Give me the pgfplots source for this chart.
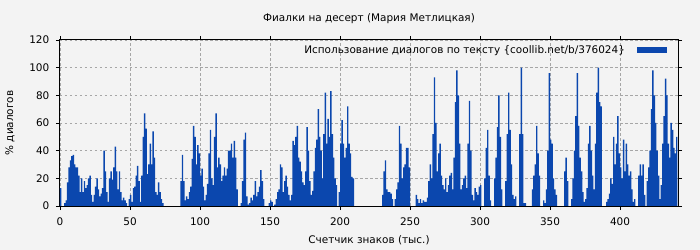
\documentclass[border=0pt]{standalone}
\usepackage{fontspec}
\setmainfont{DejaVu Sans}
\usepackage{pgfplots}
\usepackage{pgfplotstable}
\pgfplotsset{compat=1.18}
\definecolor{barblue}{RGB}{11,71,174}
\definecolor{bg}{RGB}{243,243,243}
\pgfplotstableread[row sep=\\]{
x y\\
0 13\\ 1 0\\ 2 0\\ 3 2\\ 4 4\\ 5 17\\ 6 28\\ 7 33\\ 8 36\\ 9 37\\
10 30\\ 11 28\\ 12 28\\ 13 22\\ 14 10\\ 15 20\\ 16 10\\ 17 18\\ 18 13\\ 19 15\\
20 20\\ 21 22\\ 22 8\\ 23 3\\ 24 8\\ 25 14\\ 26 20\\ 27 12\\ 28 7\\ 29 9\\
30 13\\ 31 40\\ 32 25\\ 33 10\\ 34 3\\ 35 20\\ 36 25\\ 37 19\\ 38 28\\ 39 43\\
40 25\\ 41 12\\ 42 25\\ 43 10\\ 44 4\\ 45 6\\ 46 4\\ 47 2\\ 48 0\\ 49 5\\
50 8\\ 51 3\\ 52 13\\ 53 14\\ 54 22\\ 55 29\\ 56 18\\ 57 3\\ 58 22\\ 59 50\\
60 67\\ 61 56\\ 62 23\\ 63 30\\ 64 45\\ 65 30\\ 66 54\\ 67 35\\ 68 10\\ 69 8\\
70 17\\ 71 10\\ 72 5\\ 73 2\\
86 18\\ 87 37\\ 88 18\\ 89 4\\
90 7\\ 91 5\\ 92 10\\ 93 14\\ 94 34\\ 95 58\\ 96 50\\ 97 30\\ 98 44\\ 99 38\\
100 22\\ 101 27\\ 102 14\\ 103 4\\ 104 8\\ 105 16\\ 106 38\\ 107 55\\ 108 20\\ 109 15\\
110 50\\ 111 67\\ 112 28\\ 113 35\\ 114 30\\ 115 18\\ 116 22\\ 117 28\\ 118 22\\ 119 27\\
120 40\\ 121 40\\ 122 45\\ 123 35\\ 124 47\\ 125 35\\ 126 12\\ 127 0\\ 128 0\\ 129 2\\
130 18\\ 131 48\\ 132 53\\ 133 7\\ 134 1\\ 135 2\\ 136 6\\ 137 4\\ 138 8\\ 139 18\\
140 7\\ 141 10\\ 142 14\\ 143 26\\ 144 18\\ 145 5\\
149 2\\ 150 4\\ 151 3\\ 152 0\\ 153 1\\ 154 5\\ 155 10\\ 156 12\\ 157 30\\ 158 28\\ 159 10\\
160 18\\ 161 22\\ 162 14\\ 163 8\\ 164 4\\ 165 8\\ 166 47\\ 167 44\\ 168 50\\ 169 58\\
170 35\\ 171 32\\ 172 25\\ 173 17\\ 174 15\\ 175 25\\ 176 57\\ 177 40\\ 178 18\\ 179 8\\
180 11\\ 181 25\\ 182 42\\ 183 48\\ 184 70\\ 185 50\\ 186 40\\ 187 20\\ 188 52\\ 189 82\\
190 45\\ 191 63\\ 192 50\\ 193 83\\ 194 52\\ 195 35\\ 196 20\\ 197 15\\ 198 0\\ 199 10\\
200 45\\ 201 62\\ 202 45\\ 203 35\\ 204 42\\ 205 72\\ 206 45\\ 207 38\\ 208 21\\ 209 20\\
230 8\\ 231 25\\ 232 33\\ 233 12\\ 234 10\\ 235 10\\ 236 9\\ 237 5\\ 238 0\\ 239 5\\
240 12\\ 241 17\\ 242 58\\ 243 45\\ 244 20\\ 245 28\\ 246 30\\ 247 42\\ 248 42\\ 249 28\\
254 8\\ 255 5\\ 256 2\\ 257 5\\ 258 2\\ 259 4\\
260 3\\ 261 3\\ 262 6\\ 263 18\\ 264 30\\ 265 20\\ 266 52\\ 267 93\\ 268 60\\ 269 25\\
270 38\\ 271 45\\ 272 22\\ 273 15\\ 274 12\\ 275 20\\ 276 10\\ 277 15\\ 278 22\\ 279 24\\
280 12\\ 281 35\\ 282 75\\ 283 98\\ 284 80\\ 285 45\\ 286 12\\ 287 15\\ 288 20\\ 289 22\\
290 13\\ 291 45\\ 292 76\\ 293 40\\ 294 8\\ 295 4\\ 296 13\\ 297 10\\ 298 8\\ 299 14\\
300 15\\ 301 0\\ 302 0\\ 303 20\\ 304 42\\ 305 55\\ 306 22\\ 307 4\\ 308 0\\ 309 0\\
310 20\\ 311 35\\ 312 57\\ 313 80\\ 314 50\\ 315 12\\ 316 0\\ 317 0\\ 318 18\\ 319 52\\
320 82\\ 321 55\\ 322 30\\ 323 8\\ 324 5\\ 325 7\\ 326 0\\ 327 0\\ 328 52\\ 329 100\\
330 52\\ 331 2\\ 332 2\\
337 12\\ 338 22\\ 339 30\\
340 58\\ 341 38\\ 342 22\\ 343 0\\ 344 0\\ 345 4\\ 346 2\\ 347 12\\ 348 40\\ 349 96\\
350 48\\ 351 45\\ 352 20\\ 353 12\\ 354 8\\
360 25\\ 361 35\\ 362 18\\ 363 0\\ 364 0\\ 365 5\\ 366 20\\ 367 40\\ 368 65\\ 369 96\\
370 58\\ 371 35\\ 372 25\\ 373 10\\ 374 3\\ 375 5\\ 376 13\\ 377 45\\ 378 58\\ 379 40\\
380 22\\ 381 12\\ 382 45\\ 383 82\\ 384 100\\ 385 75\\ 386 72\\
390 3\\ 391 5\\ 392 9\\ 393 20\\ 394 16\\ 395 50\\ 396 30\\ 397 45\\ 398 65\\ 399 38\\
400 28\\ 401 20\\ 402 48\\ 403 25\\ 404 45\\ 405 30\\ 406 22\\ 407 25\\ 408 12\\ 409 3\\
410 5\\ 411 0\\ 412 0\\ 413 22\\ 414 30\\ 415 22\\ 416 30\\ 417 8\\ 418 0\\ 419 18\\
420 28\\ 421 40\\ 422 70\\ 423 98\\ 424 80\\ 425 60\\ 426 40\\ 427 22\\ 428 5\\ 429 15\\
430 45\\ 431 65\\ 432 92\\ 433 80\\ 434 45\\ 435 35\\ 436 60\\ 437 55\\ 438 42\\ 439 38\\
440 50\\
}\dialogdata
\newcommand{\chartfont}{\fontsize{10.5}{12.5}\selectfont}
\begin{document}
\chartfont
\begin{tikzpicture}
\fill[bg] (-60bp,-44bp) rectangle (640bp,206bp);
\begin{axis}[
  at={(0,0)}, anchor=south west,
  scale only axis, width=618bp, height=166bp,
  xmin=0, xmax=441.4, ymin=0, ymax=120,
  xtick={0,50,...,400}, ytick={0,20,...,120},
  axis background/.style={fill=bg},
  axis line style={line width=1bp, black},
  tick align=outside, major tick length=4bp,
  tick style={black, line width=0.8bp},
  xmajorgrids, ymajorgrids,
  grid style={black!35, dash pattern=on 2.5bp off 2.5bp, line width=0.7bp},
  ticklabel style={font=\chartfont},
  xticklabel style={yshift=-4bp},
  yticklabel style={xshift=-3bp},
  /pgf/number format/assume math mode=true,
  legend style={draw=none, fill=none, at={(0.984,0.985)}, anchor=north east,
    font=\chartfont, inner sep=1bp,
    /tikz/every odd column/.append style={column sep=10bp}},
  legend plot pos=right,
]
\addplot[ybar, bar width=1.02, bar shift=0, fill=barblue, draw=none,
  legend image code/.code={\fill[barblue] (0bp,-3bp) rectangle (30bp,3bp);}]
  table[x expr=\thisrow{x}+0.5, y=y] {\dialogdata};
\addlegendentry{Использование диалогов по тексту \{coollib.net/b/376024\}}
\end{axis}
\node at (309bp,187bp) {Фиалки на десерт (Мария Метлицкая)};
\node at (309bp,-34bp) {Счетчик знаков (тыс.)};
\node[rotate=90] at (-50bp,83bp) {\% диалогов};
\end{tikzpicture}
\end{document}
